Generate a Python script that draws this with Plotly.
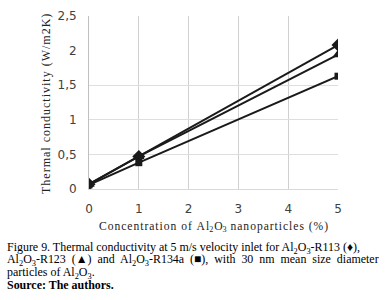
import plotly.graph_objects as go

# ---- data ----
concentration = [0, 1, 5]
r113 = [0.07, 0.47, 2.08]
r123 = [0.07, 0.47, 1.94]
r134a = [0.06, 0.38, 1.63]
x_ticks = [0, 1, 2, 3, 4, 5]
y_ticks = [0, 0.5, 1, 1.5, 2, 2.5]
y_ticktext = ["0", "0,5", "1", "1,5", "2", "2,5"]
x_grid = [1, 2, 3, 4]
y_grid = [0.5, 1, 1.5]

W, H = 386, 300
L, R, T, B = 89, 48, 16, 111
PH = H - T - B
PW = W - L - R

def py(ypx):
    return (H - B - ypx) / PH

def px(xpx):
    return (xpx - L) / PW

def spaced(s, sep="\u200a"):
    return sep.join(list(s))

fig = go.Figure()
line = dict(color="#1a1a1a", width=2)
fig.add_trace(go.Scatter(x=concentration, y=r113, mode="lines+markers", line=line,
                         marker=dict(symbol="diamond", size=10, color="#1a1a1a"), name="R113"))
fig.add_trace(go.Scatter(x=concentration, y=r123, mode="lines+markers", line=line,
                         marker=dict(symbol="triangle-up", size=10, color="#1a1a1a"), name="R123"))
fig.add_trace(go.Scatter(x=concentration, y=r134a, mode="lines+markers", line=line,
                         marker=dict(symbol="square", size=7, color="#1a1a1a"), name="R134a"))
# invisible trace for the grid axes
fig.add_trace(go.Scatter(x=[0, 5], y=[0, 2.5], mode="markers", marker=dict(opacity=0),
                         xaxis="x2", yaxis="y2", showlegend=False, hoverinfo="skip"))

tickfont = dict(family="DejaVu Sans", size=12, color="#404040")
fig.update_layout(
    width=W, height=H,
    margin=dict(l=L, r=R, t=T, b=B, autoexpand=False),
    paper_bgcolor="white", plot_bgcolor="white",
    showlegend=False,
    xaxis=dict(range=[0, 5], tickmode="array", tickvals=x_ticks, ticktext=[str(v) for v in x_ticks],
               showgrid=False, zeroline=False, showline=True, linecolor="#d9d9d9", linewidth=1,
               ticks="", tickfont=tickfont, ticklabelstandoff=9, automargin=False),
    yaxis=dict(range=[0, 2.5], tickmode="array", tickvals=y_ticks, ticktext=y_ticktext,
               showgrid=False, zeroline=False, showline=True, linecolor="#bfbfbf", linewidth=1,
               ticks="", tickfont=tickfont, ticklabelstandoff=9, automargin=False),
    xaxis2=dict(range=[0, 5], overlaying="x", anchor="y2", side="bottom",
                tickmode="array", tickvals=x_grid, showticklabels=False,
                showgrid=True, gridcolor="#d0d0d0", gridwidth=1,
                zeroline=False, showline=False, ticks="", automargin=False),
    yaxis2=dict(range=[0, 2.5], overlaying="y", anchor="x2", side="left",
                tickmode="array", tickvals=y_grid, showticklabels=False,
                showgrid=True, gridcolor="#dedede", gridwidth=1,
                zeroline=False, showline=False, ticks="", automargin=False),
)

serif = "Liberation Serif"
ann = []
ann.append(dict(text=spaced("Thermal conductivity (W/m2K)"), x=px(37), y=py(104), xref="paper", yref="paper",
                textangle=-90, showarrow=False, font=dict(family=serif, size=12, color="#222")))
xt = (spaced("Concentration of Al") + "<sub>2</sub>\u200aO<sub>3</sub>\u200a\u00a0" +
      spaced("nanoparticles (%)"))
ann.append(dict(text=xt, x=px(213), y=py(227), xref="paper", yref="paper", showarrow=False,
                xanchor="center", yanchor="middle", font=dict(family=serif, size=11.6, color="#222")))
nb = "\u00a0"
caption = [
    "Figure 9. Thermal conductivity at 5 m/s velocity inlet for Al<sub>2</sub>O<sub>3</sub>-R113 (\u2666),",
    "Al<sub>2</sub>O<sub>3</sub>-R123" + nb + " (\u25b2)" + nb + " and" + nb + " Al<sub>2</sub>O<sub>3</sub>-R134a" + nb + " (\u25a0), " + nb + "with" + nb + " 30" + nb + " nm" + nb + " mean" + nb + " size" + nb + " diameter",
    "particles of Al<sub>2</sub>O<sub>3</sub>.",
    "<b>Source: The authors.</b>",
]
cap_y = [247.5, 260, 272.5, 285]
for t, yy in zip(caption, cap_y):
    ann.append(dict(text=t, x=px(5), y=py(yy), xref="paper", yref="paper", showarrow=False,
                    xanchor="left", yanchor="middle", align="left",
                    font=dict(family=serif, size=11.95, color="#000")))
fig.update_layout(annotations=ann)

fig.write_html("out.html", config={"displayModeBar": False},
               post_script="document.body.style.margin='0';")
